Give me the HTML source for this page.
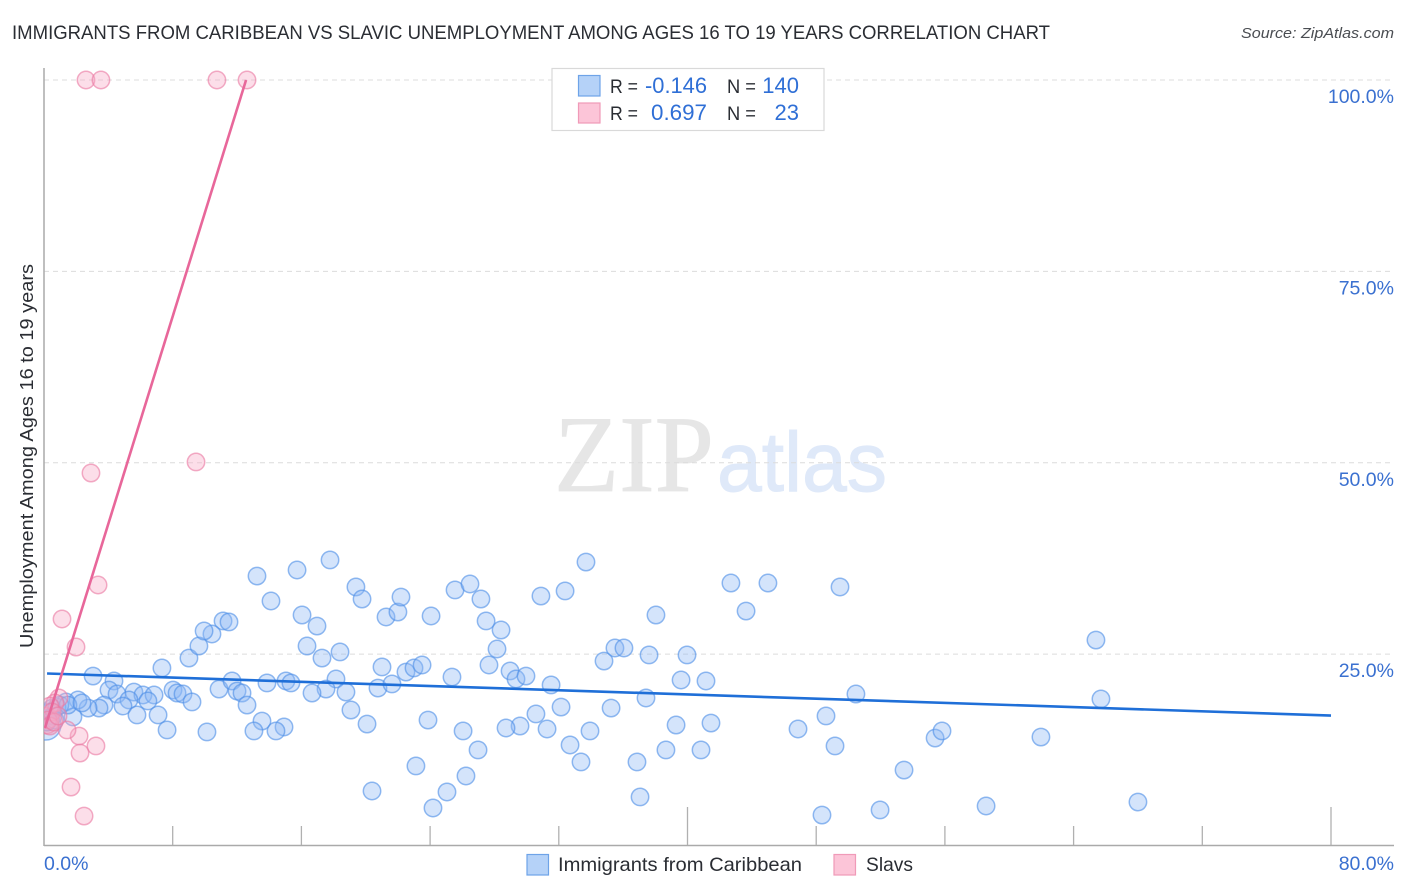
<!DOCTYPE html>
<html lang="en">
<head>
<meta charset="utf-8">
<title>Immigrants from Caribbean vs Slavic Unemployment Correlation Chart</title>
<style>
html,body{margin:0;padding:0;background:#fff;}
svg{display:block;font-family:"Liberation Sans",sans-serif;}
</style>
</head>
<body>
<svg id="chart" xmlns="http://www.w3.org/2000/svg" width="1406" height="892" viewBox="0 0 1406 892">
  <defs>
    <clipPath id="plot-clip"><rect x="44" y="60" width="1350" height="786"/></clipPath>
  </defs>
  <rect width="1406" height="892" fill="#fff"/>
  <text x="12" y="39" font-size="19" fill="#2a2d33" textLength="1038" lengthAdjust="spacingAndGlyphs">IMMIGRANTS FROM CARIBBEAN VS SLAVIC UNEMPLOYMENT AMONG AGES 16 TO 19 YEARS CORRELATION CHART</text>
  <text x="1241" y="38" font-size="15" font-style="italic" fill="#4a4d52" textLength="153" lengthAdjust="spacingAndGlyphs">Source: ZipAtlas.com</text>
  <g>
    <text x="554" y="491" font-family="'Liberation Serif',serif" font-size="109" fill="#e6e6e6" stroke="#e6e6e6" stroke-width="0.8" textLength="160" lengthAdjust="spacingAndGlyphs">ZIP</text>
    <text x="717" y="491" font-size="84" fill="#dfe9f9" stroke="#dfe9f9" stroke-width="1" textLength="170" lengthAdjust="spacingAndGlyphs">atlas</text>
  </g>
  <g id="grid"></g>
  <g id="axes"></g>
  <g id="marks" clip-path="url(#plot-clip)"></g>
  <g id="labels"></g>
  <text transform="translate(33,456) rotate(-90)" font-size="18.5" fill="#2a2d33" text-anchor="middle" textLength="384" lengthAdjust="spacingAndGlyphs">Unemployment Among Ages 16 to 19 years</text>

  <g>
    <rect x="552" y="68.5" width="272" height="62" fill="#fff" stroke="#d9d9d9" stroke-width="1.2"/>
    <rect x="578.5" y="75.5" width="21.5" height="20.5" fill="#b5d2f8" stroke="#6ea3e8" stroke-width="1.2"/>
    <rect x="578.5" y="103" width="21.5" height="20" fill="#fcc5d8" stroke="#f09ab8" stroke-width="1.2"/>
    <g font-size="19">
      <text x="610" y="93" fill="#2a2d33" textLength="28" lengthAdjust="spacingAndGlyphs">R =</text>
      <text x="645" y="93" fill="#2f6fd6" font-size="22" textLength="62" lengthAdjust="spacingAndGlyphs">-0.146</text>
      <text x="727" y="93" fill="#2a2d33" textLength="29" lengthAdjust="spacingAndGlyphs">N =</text>
      <text x="799" y="93" fill="#2f6fd6" font-size="22" text-anchor="end">140</text>
      <text x="610" y="120" fill="#2a2d33" textLength="28" lengthAdjust="spacingAndGlyphs">R =</text>
      <text x="651" y="120" fill="#2f6fd6" font-size="22" textLength="56" lengthAdjust="spacingAndGlyphs">0.697</text>
      <text x="727" y="120" fill="#2a2d33" textLength="29" lengthAdjust="spacingAndGlyphs">N =</text>
      <text x="799" y="120" fill="#2f6fd6" font-size="22" text-anchor="end">23</text>
    </g>
  </g>

  <g>
    <rect x="527" y="854.5" width="21.5" height="20.5" fill="#b5d2f8" stroke="#6ea3e8" stroke-width="1.2"/>
    <text x="558" y="871" font-size="19.5" fill="#2a2d33" textLength="244" lengthAdjust="spacingAndGlyphs">Immigrants from Caribbean</text>
    <rect x="834" y="854.5" width="21.5" height="20.5" fill="#fcc5d8" stroke="#f09ab8" stroke-width="1.2"/>
    <text x="866" y="871" font-size="19.5" fill="#2a2d33" textLength="47" lengthAdjust="spacingAndGlyphs">Slavs</text>
  </g>
</svg>
<script>
// Values (percent units)
const caribbeanX = [3.05,4.35,4.04,4.54,5.59,6.15,6.84,6.46,5.28,4.91,3.73,3.42,2.74,2.11,1.37,5.78,7.09,7.65,10.13,7.33,8.02,8.27,8.64,9.20,9.01,9.63,10.88,11.69,12.00,12.31,12.62,13.86,15.04,15.35,13.55,14.92,14.42,13.05,1.80,11.13,11.50,10.44,9.95,13.24,14.11,15.73,16.04,16.97,17.78,19.39,19.77,21.26,22.00,22.19,24.06,25.55,26.48,27.16,27.48,28.41,28.16,30.89,32.39,33.69,38.04,42.70,43.64,45.00,49.48,65.39,65.70,16.35,17.28,18.40,21.01,18.15,17.53,16.66,18.77,19.08,20.08,20.76,21.63,22.50,23.00,23.50,25.36,27.66,28.97,29.34,29.96,31.52,32.14,30.58,29.59,28.72,26.05,23.87,26.98,23.12,20.39,25.05,24.18,26.23,31.27,32.70,33.38,33.94,35.25,34.81,35.49,36.05,37.61,39.97,39.60,41.15,37.42,39.29,41.46,38.66,40.84,36.86,37.05,46.87,48.61,49.17,50.47,53.46,55.39,55.82,61.97,51.97,48.36,58.56,68.00,0.37,0.56,0.50,0.81,0.99,1.49,2.36,0.19,0.68];
const caribbeanY = [22.14,21.49,20.31,19.79,20.05,19.66,19.66,18.88,19.01,18.22,18.35,17.96,17.96,19.01,18.75,17.05,17.05,15.09,14.83,23.19,20.31,19.92,19.79,18.75,24.49,26.06,20.44,21.49,20.18,19.92,18.35,21.23,21.49,21.23,16.26,15.48,14.96,14.96,16.79,29.33,29.20,27.63,28.02,35.20,31.94,35.99,30.11,28.67,37.30,33.77,32.20,29.85,30.50,32.46,29.98,33.38,34.16,32.20,29.33,28.15,25.67,32.59,33.25,37.03,30.11,34.29,30.63,34.29,33.77,26.84,19.14,26.06,24.49,25.28,23.32,21.75,20.44,19.92,20.05,17.70,15.87,20.57,21.10,22.66,23.19,23.58,22.01,23.58,22.80,21.75,22.14,20.97,18.09,17.18,15.61,15.35,14.96,16.39,12.48,10.39,7.12,6.99,4.90,9.08,15.22,13.13,10.91,14.96,17.96,24.10,25.80,25.80,24.89,24.89,21.62,21.49,19.27,15.74,16.00,12.48,12.48,10.91,6.34,15.22,16.92,13.00,19.79,9.86,14.04,14.96,14.17,4.64,3.98,5.16,5.68,17.44,16.92,17.96,18.09,18.35,18.35,18.62,16.13,16.39];
const caribbeanClusterX = [0.12];
const caribbeanClusterY = [15.74];
const slavsX = [2.61,3.54,10.75,12.62,9.45,2.92,3.36,1.12,1.99,2.18,3.23,2.24,1.68,2.49,1.43,0.93,0.68,0.37,0.50,0.25,0.37,0.62,0.87];
const slavsY = [100,100,100,100,50.10,48.66,34.03,29.59,25.93,14.30,13.00,12.08,7.64,3.85,15.09,19.27,18.62,18.22,17.44,16.39,15.61,16.13,16.92];
const slavsClusterX = [0.12];
const slavsClusterY = [16.3];
const caribbeanTrendX = [0.19,80];
const caribbeanTrendY = [22.47,16.98];
const slavsTrendX = [0.06,12.56];
const slavsTrendY = [15.35,100];
const xTickValues = [0,8,16,24,32,40,48,56,64,72,80];
const yTickValues = [25,50,75,100];
const xTickLabels = ["0.0%","80.0%"];
const yTickLabels = ["25.0%","50.0%","75.0%","100.0%"];

const NS = 'http://www.w3.org/2000/svg';
const xScale = v => 44 + v * (1331 - 44) / 80;
const yScale = v => 845.5 - v * (845.5 - 80) / 100;

function make(tag, attrs, parent) {
  const el = document.createElementNS(NS, tag);
  for (const k in attrs) el.setAttribute(k, attrs[k]);
  parent.appendChild(el);
  return el;
}
const grid = document.getElementById('grid');
const axes = document.getElementById('axes');
const marks = document.getElementById('marks');
const labels = document.getElementById('labels');

yTickValues.forEach(function (v, i) {
  const g = make('line', {x1: 44, x2: 1394, y1: yScale(v), y2: yScale(v), stroke: '#dcdcdc', 'stroke-width': 1, 'stroke-dasharray': '5 4'}, grid);
  
  
  const t = make('text', {x: 1394, y: yScale(v) + 23, 'font-size': 19.5, fill: '#3a70d0', 'text-anchor': 'end'}, labels);
  t.textContent = yTickLabels[i];
  
  
});

const yAxis = make('line', {x1: 44, x2: 44, y1: 68, y2: 846, stroke: '#aaaaaa', 'stroke-width': 1.5}, axes);


const xAxis = make('line', {x1: 44, x2: 1394, y1: 845.5, y2: 845.5, stroke: '#aaaaaa', 'stroke-width': 1.5}, axes);



xTickValues.slice(1).forEach(function (v, i) {
  const tall = (i + 1) % 5 === 0;
  const tick = make('line', {x1: xScale(v), x2: xScale(v), y1: tall ? 807 : 826, y2: 845, stroke: '#b0b0b0', 'stroke-width': 1.3}, axes);
  
  
});

const x0 = make('text', {x: 44, y: 870, 'font-size': 19.5, fill: '#3a70d0'}, labels);
x0.textContent = xTickLabels[0];


const x1 = make('text', {x: 1394, y: 870, 'font-size': 19.5, fill: '#3a70d0', 'text-anchor': 'end'}, labels);
x1.textContent = xTickLabels[1];



function drawPoints(xs, ys, r, fill, stroke, name) {
  xs.forEach(function (v, i) {
    const c = make('circle', {cx: xScale(v), cy: yScale(ys[i]), r: r, fill: fill, 'fill-opacity': 0.38, stroke: stroke, 'stroke-opacity': 0.62, 'stroke-width': 1.5}, marks);
    
    
  });
}
drawPoints(caribbeanClusterX, caribbeanClusterY, 15, '#8db9f4', '#4f8fe6', 'point-caribbean-cluster');
drawPoints(caribbeanX, caribbeanY, 8.7, '#8db9f4', '#4f8fe6', 'point-caribbean');
drawPoints(slavsClusterX, slavsClusterY, 13, '#f48fb1', '#ea7ba3', 'point-slavs-cluster');
drawPoints(slavsX, slavsY, 8.7, '#f8a8c4', '#ea7ba3', 'point-slavs');

const blueTrend = make('line', {x1: xScale(caribbeanTrendX[0]), y1: yScale(caribbeanTrendY[0]), x2: xScale(caribbeanTrendX[1]), y2: yScale(caribbeanTrendY[1]), stroke: '#1f6fd8', 'stroke-width': 2.6}, marks);


const pinkTrend = make('line', {x1: xScale(slavsTrendX[0]), y1: yScale(slavsTrendY[0]), x2: xScale(slavsTrendX[1]), y2: yScale(slavsTrendY[1]), stroke: '#e8679a', 'stroke-width': 2.6}, marks);


</script>
</body>
</html>
